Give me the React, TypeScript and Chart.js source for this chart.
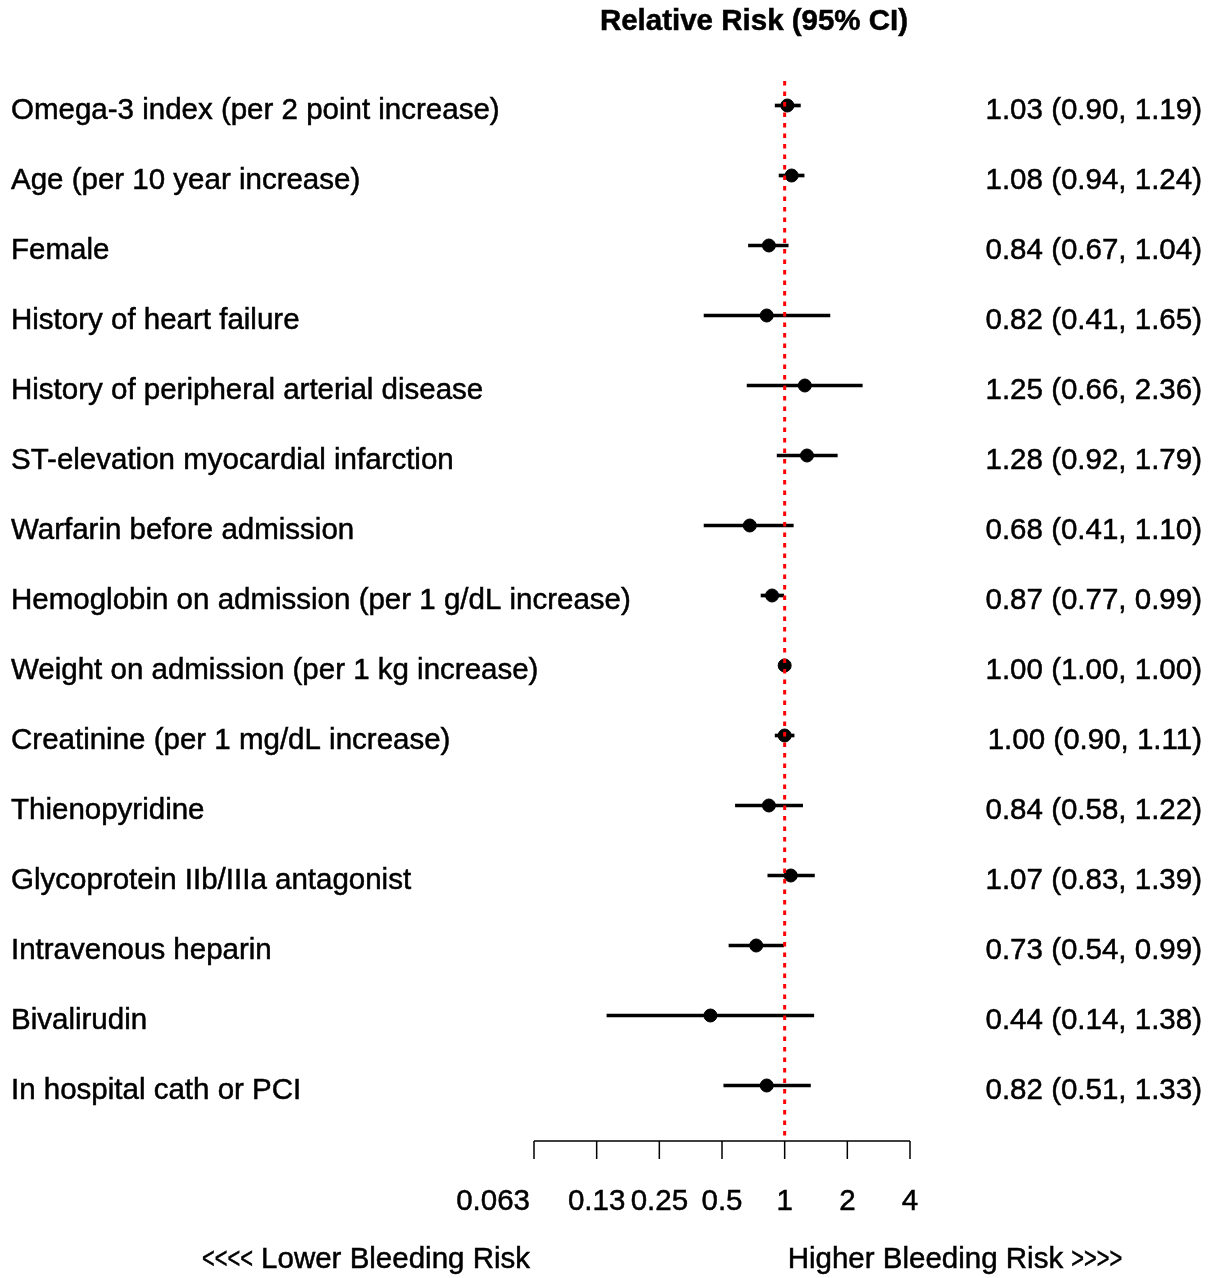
import React, { useEffect, useRef } from "react";
import { Chart, registerables } from "chart.js";

Chart.register(...registerables);

const predictors = [
  "Omega-3 index (per 2 point increase)",
  "Age (per 10 year increase)",
  "Female",
  "History of heart failure",
  "History of peripheral arterial disease",
  "ST-elevation myocardial infarction",
  "Warfarin before admission",
  "Hemoglobin on admission (per 1 g/dL increase)",
  "Weight on admission (per 1 kg increase)",
  "Creatinine (per 1 mg/dL increase)",
  "Thienopyridine",
  "Glycoprotein IIb/IIIa antagonist",
  "Intravenous heparin",
  "Bivalirudin",
  "In hospital cath or PCI",
];
const relativeRisk = [1.03, 1.08, 0.84, 0.82, 1.25, 1.28, 0.68, 0.87, 1.0, 1.0, 0.84, 1.07, 0.73, 0.44, 0.82];
const ciLower = [0.9, 0.94, 0.67, 0.41, 0.66, 0.92, 0.41, 0.77, 1.0, 0.9, 0.58, 0.83, 0.54, 0.14, 0.51];
const ciUpper = [1.19, 1.24, 1.04, 1.65, 2.36, 1.79, 1.1, 0.99, 1.0, 1.11, 1.22, 1.39, 0.99, 1.38, 1.33];
const axisTicks = [0.0625, 0.125, 0.25, 0.5, 1, 2, 4];
const axisTickLabels = ["0.063", "0.13", "0.25", "0.5", "1", "2", "4"];
const referenceValue = 1;
const titleText = "Relative Risk (95% CI)";
const lowerArrows = "<<<<";
const lowerLabel = "Lower Bleeding Risk";
const higherLabel = "Higher Bleeding Risk";
const higherArrows = ">>>>";

const FONT_FAMILY = '"Liberation Sans", Arial, Helvetica, sans-serif';
const FONT = `29.5px ${FONT_FAMILY}`;
const fmt = (v: number) => v.toFixed(2);

function drawText(ctx: CanvasRenderingContext2D, text: string, x: number, y: number) {
  ctx.fillText(text, x, y);
  ctx.strokeText(text, x, y);
}

function drawArrows(ctx: CanvasRenderingContext2D, text: string, xLeft: number, y: number, squeeze: number) {
  ctx.save();
  ctx.translate(xLeft, y);
  ctx.scale(squeeze, 1);
  ctx.textAlign = "left";
  drawText(ctx, text, 0, 0);
  ctx.restore();
}

const forestPlugin = {
  id: "forestDecor",
  afterDatasetsDraw(chart: any) {
    const { ctx, chartArea, scales } = chart;
    const xs = scales.x;
    const ys = scales.y;
    const axisY = chartArea.bottom + 55.5;
    const width = chart.width;

    ctx.save();
    // reference line at RR = 1
    const refX = xs.getPixelForValue(referenceValue);
    ctx.strokeStyle = "#ff0000";
    ctx.lineWidth = 3;
    ctx.setLineDash([4.5, 6]);
    ctx.beginPath();
    ctx.moveTo(refX, chartArea.top - 24.5);
    ctx.lineTo(refX, axisY);
    ctx.stroke();
    ctx.setLineDash([]);

    // x axis
    ctx.strokeStyle = "#000";
    ctx.lineWidth = 1.5;
    ctx.beginPath();
    ctx.moveTo(xs.getPixelForValue(axisTicks[0]), axisY);
    ctx.lineTo(xs.getPixelForValue(axisTicks[axisTicks.length - 1]), axisY);
    axisTicks.forEach((t) => {
      const px = xs.getPixelForValue(t);
      ctx.moveTo(px, axisY);
      ctx.lineTo(px, axisY + 18);
    });
    ctx.stroke();

    ctx.fillStyle = "#000";
    ctx.strokeStyle = "#000";
    ctx.lineWidth = 0.5;
    ctx.font = FONT;
    ctx.textBaseline = "middle";
    axisTicks.forEach((t, i) => {
      const px = xs.getPixelForValue(t);
      if (i === 0) {
        ctx.textAlign = "right";
        drawText(ctx, axisTickLabels[i], px - 4, axisY + 61);
      } else {
        ctx.textAlign = "center";
        drawText(ctx, axisTickLabels[i], px, axisY + 61);
      }
    });

    // direction labels
    const squeeze = 0.74;
    const bottomY = axisY + 119;
    const leftEnd = xs.getPixelForValue(axisTicks[0]) - 4;
    const lowerW = ctx.measureText(" " + lowerLabel).width;
    const lowerArrowW = ctx.measureText(lowerArrows).width * squeeze;
    ctx.textAlign = "right";
    drawText(ctx, lowerLabel, leftEnd, bottomY);
    drawArrows(ctx, lowerArrows, leftEnd - lowerW - lowerArrowW, bottomY, squeeze);
    const rightStart = refX + 3;
    ctx.textAlign = "left";
    drawText(ctx, higherLabel, rightStart, bottomY);
    const higherW = ctx.measureText(higherLabel + " ").width;
    drawArrows(ctx, higherArrows, rightStart + higherW, bottomY, squeeze);

    // row labels
    predictors.forEach((name, i) => {
      const py = ys.getPixelForValue(i) + 5;
      ctx.textAlign = "left";
      drawText(ctx, name, 11, py);
      ctx.textAlign = "right";
      drawText(ctx, `${fmt(relativeRisk[i])} (${fmt(ciLower[i])}, ${fmt(ciUpper[i])})`, width - 16, py);
    });

    // title
    ctx.font = `bold 29.5px ${FONT_FAMILY}`;
    ctx.textAlign = "center";
    drawText(ctx, titleText, 754, 22);
    ctx.restore();
  },
};

export default function App() {
  const canvasRef = useRef<HTMLCanvasElement | null>(null);

  useEffect(() => {
    document.body.style.margin = "0";
    if (!canvasRef.current) return;
    const chart = new Chart(canvasRef.current, {
      type: "bar",
      data: {
        labels: predictors,
        datasets: [
          {
            type: "bar",
            data: predictors.map((_, i) => [ciLower[i], ciUpper[i]]) as any,
            backgroundColor: "#000",
            borderWidth: 0,
            barThickness: 3,
            clip: false,
            order: 2,
          } as any,
          {
            type: "scatter",
            data: predictors.map((_, i) => ({ x: relativeRisk[i], y: i })),
            backgroundColor: "#000",
            borderColor: "#000",
            pointRadius: 6.5,
            pointHoverRadius: 6.5,
            clip: false,
            order: 1,
          } as any,
        ],
      },
      options: {
        indexAxis: "y",
        animation: false,
        responsive: true,
        maintainAspectRatio: false,
        layout: { padding: { left: 534, right: 308, top: 105.5, bottom: 192.5 } },
        plugins: { legend: { display: false }, tooltip: { enabled: false }, title: { display: false } },
        scales: {
          x: { type: "logarithmic", min: 0.0625, max: 4, display: false },
          y: { type: "category", offset: false, display: false },
        },
      },
      plugins: [forestPlugin],
    });
    return () => chart.destroy();
  }, []);

  return (
    <div style={{ width: 1218, height: 1278, position: "relative", overflow: "hidden" }}>
      <canvas ref={canvasRef} />
    </div>
  );
}
